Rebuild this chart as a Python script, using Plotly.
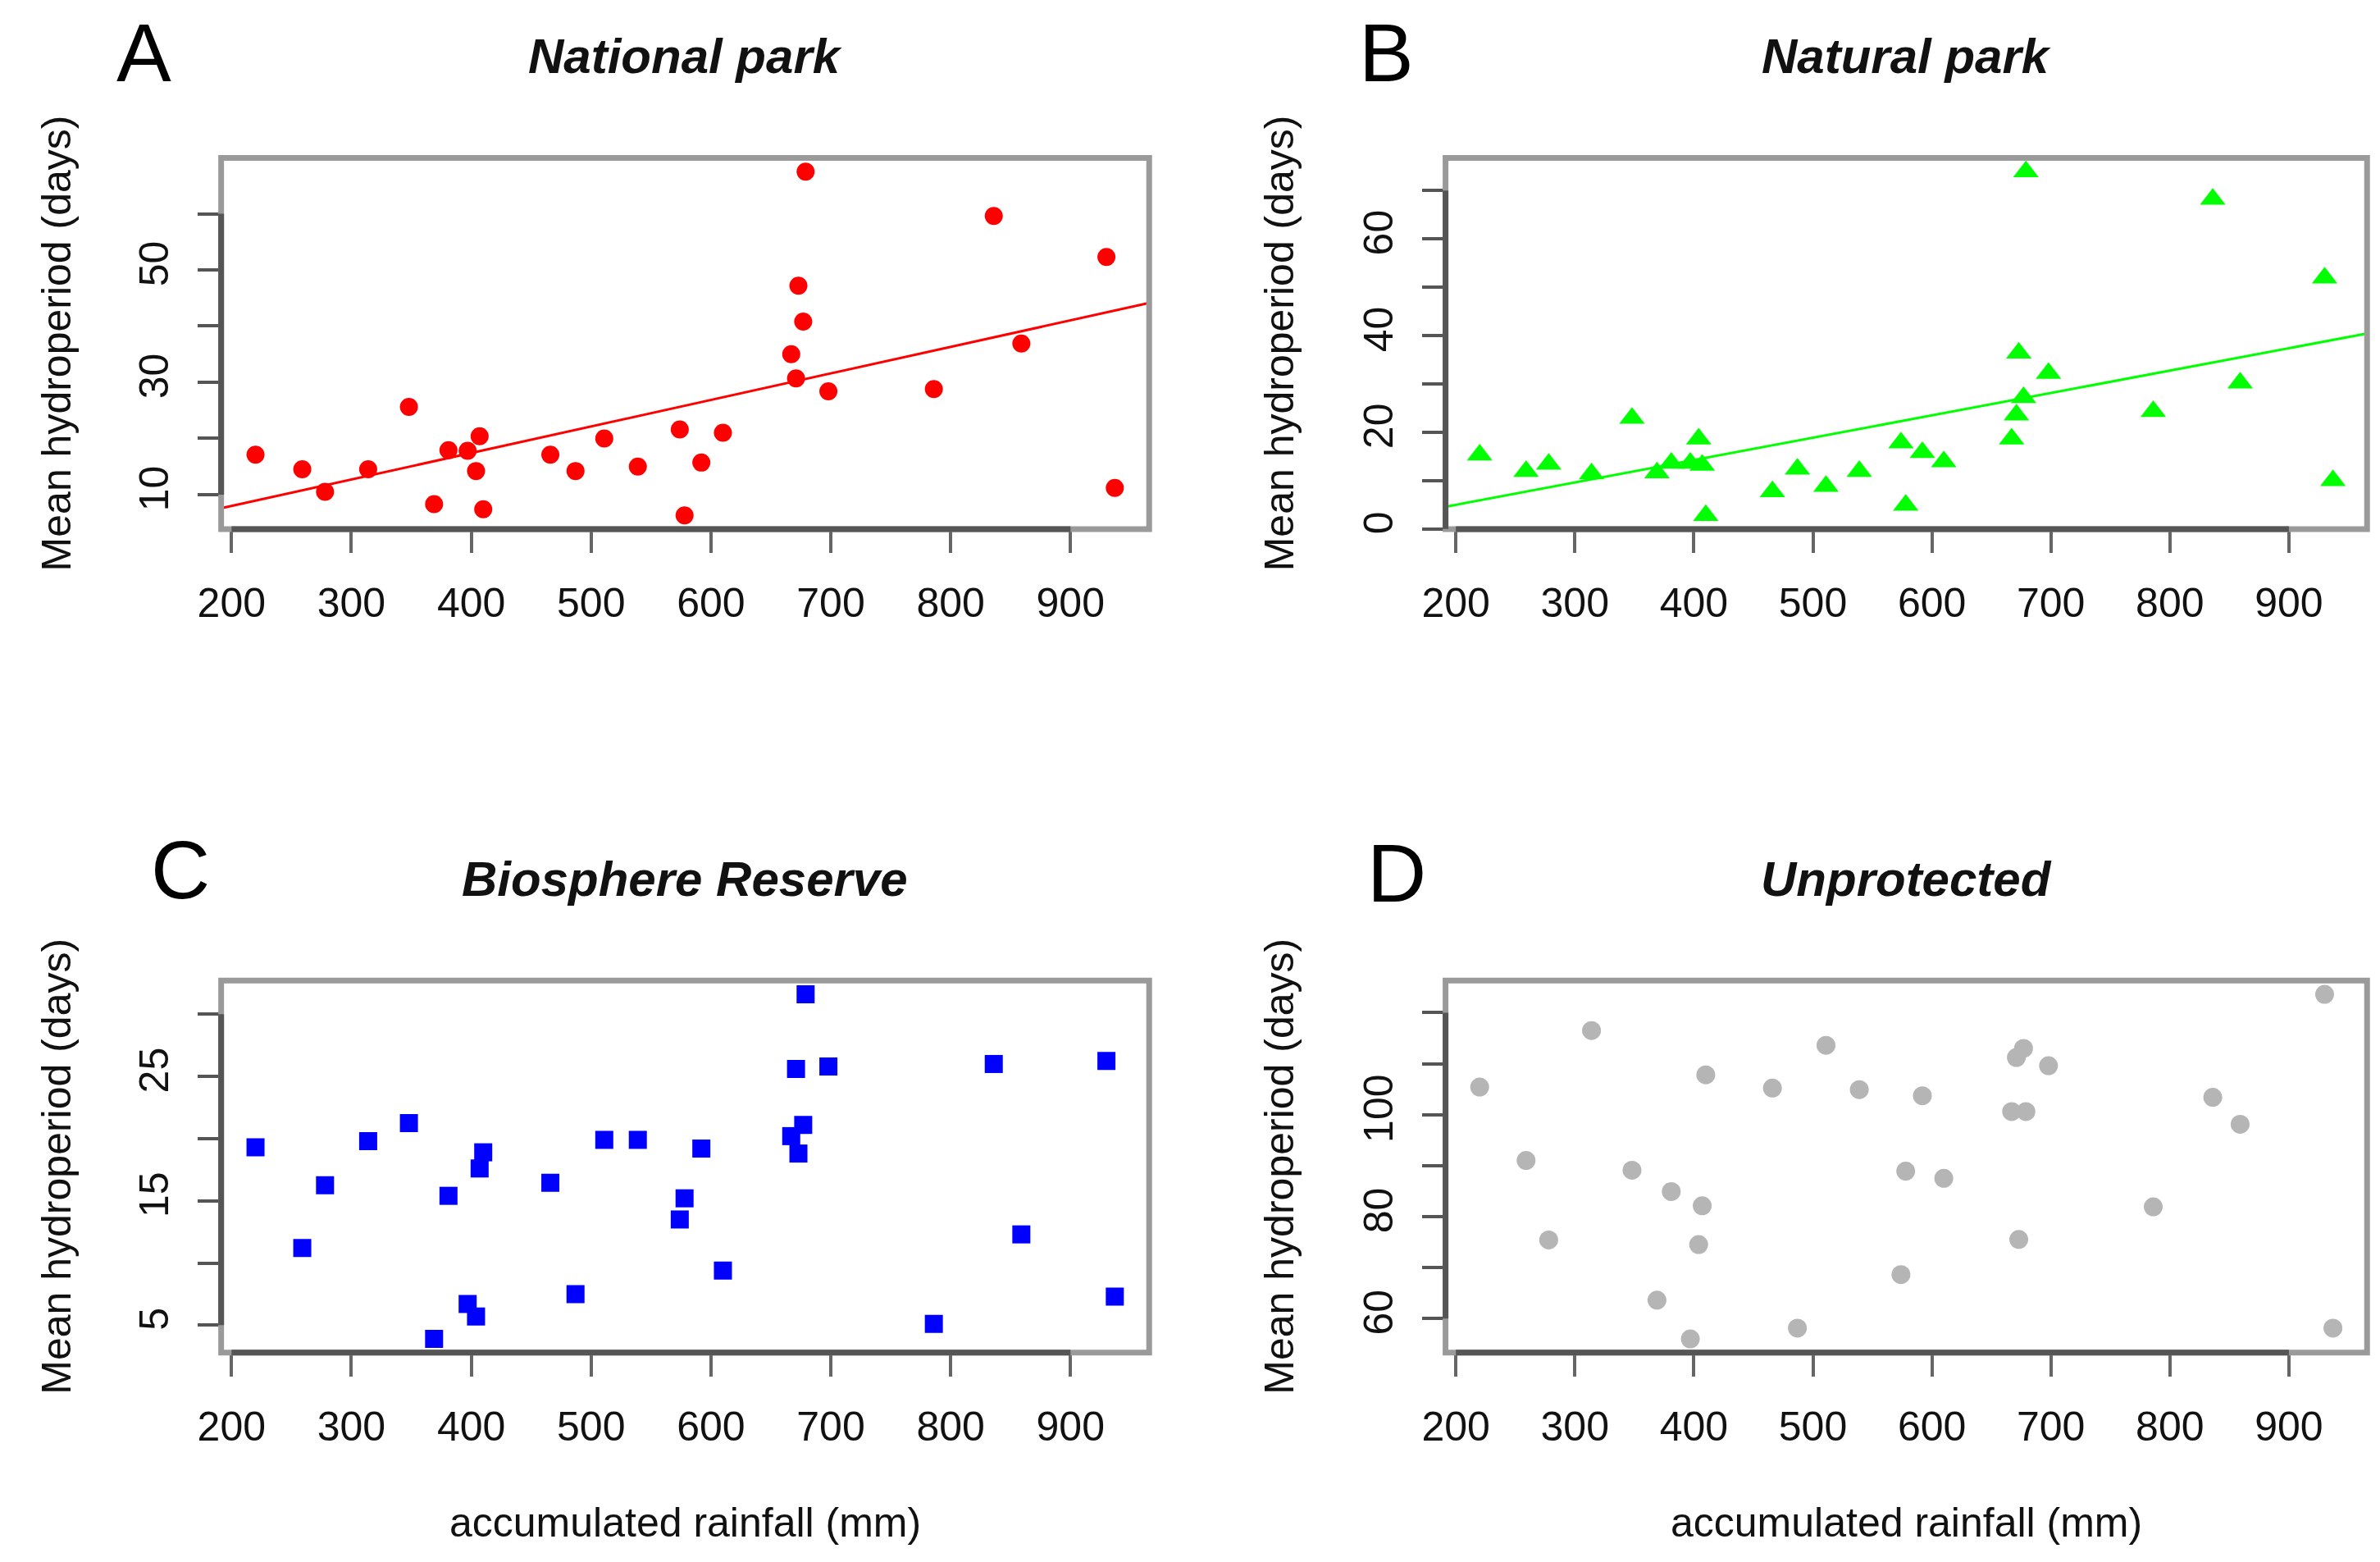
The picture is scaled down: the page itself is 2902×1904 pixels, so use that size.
import numpy as np
import plotly.graph_objects as go

W, H = 2902, 1904
OFF = 8  # page margin seen in the screenshot

# accumulated rainfall (mm) per site, same sites in each panel
rainfall = [220, 259, 278, 314, 348, 369, 381, 397, 404, 407, 410, 466, 487, 511, 539,
            574, 578, 592, 610, 667, 671, 673, 677, 679, 698, 786, 836, 859, 930, 937]

# mean hydroperiod (days)
national_park = [17.1, 14.5, 10.5, 14.5, 25.6, 8.3, 17.9, 17.8, 14.2, 20.4, 7.4, 17.1, 14.2, 20.0, 15.0,
                 21.6, 6.3, 15.7, 21.0, 35.0, 30.7, 47.2, 40.8, 67.5, 28.4, 28.8, 59.6, 36.9, 52.3, 11.2]
natural_park = [15.3, 11.9, 13.4, 11.4, 22.9, 11.6, 13.6, 13.6, 18.6, 13.2, 2.8, 7.7, 12.4, 8.8, 11.9,
                17.8, 4.9, 15.8, 13.9, 18.6, 23.6, 36.4, 27.2, 73.9, 32.2, 24.3, 68.2, 30.2, 51.9, 10.0]
biosphere = [19.3, 11.2, 16.25, 19.8, 21.25, 3.9, 15.4, 6.7, 5.7, 17.6, 18.9, 16.45, 7.5, 19.9, 19.9,
             13.5, 15.2, 19.2, 9.4, 20.2, 25.6, 18.8, 21.1, 31.6, 25.8, 5.1, 26.0, 12.3, 26.25, 7.3]
unprotected = [105.4, 91.0, 75.4, 116.5, 89.1, 63.6, 84.9, 56.0, 74.5, 82.1, 107.8, 105.2, 58.1, 113.6, 104.9,
               68.6, 88.9, 103.7, 87.5, 100.6, 111.2, 75.5, 113.0, 100.6, 109.6, 81.9, 103.4, 98.1, 123.6, 58.1]

x_ticks = [200, 300, 400, 500, 600, 700, 800, 900]

panels = [
    dict(letter="A", title="National park", y=national_park, color="#ff0000", symbol="circle", size=22,
         fit=True, yticks=[10, 20, 30, 40, 50, 60], ylabels=["10", "", "30", "", "50", ""]),
    dict(letter="B", title="Natural park", y=natural_park, color="#00ff00", symbol="triangle-up", size=27,
         fit=True, yticks=[0, 10, 20, 30, 40, 50, 60, 70], ylabels=["0", "", "20", "", "40", "", "60", ""]),
    dict(letter="C", title="Biosphere Reserve", y=biosphere, color="#0000ff", symbol="square", size=22,
         fit=False, yticks=[5, 10, 15, 20, 25, 30], ylabels=["5", "", "15", "", "25", ""]),
    dict(letter="D", title="Unprotected", y=unprotected, color="#b5b5b5", symbol="circle", size=23,
         fit=False, yticks=[60, 70, 80, 90, 100, 110, 120], ylabels=["60", "", "80", "", "100", "", ""]),
]

# plot boxes in screenshot pixels: left, right, top, bottom
boxes = [(243, 1386, 193, 647), (1751, 2886, 193, 647),
         (243, 1386, 1199, 1654), (1751, 2886, 1199, 1654)]
letter_pos = [(116, 52), (1646, 52), (158, 1063), (1656, 1067)]
ytitle_x = [40, 1546, 40, 1546]


def px(x):
    return (x - OFF) / W


def py(y):
    return 1 - (y - OFF) / H


def r_range(v):
    lo, hi = min(v), max(v)
    pad = 0.04 * (hi - lo)
    return [lo - pad, hi + pad]


FONT = "Liberation Sans"
fig = go.Figure()
layout = {}
shapes = []
annotations = []

for i, p in enumerate(panels):
    n = "" if i == 0 else str(i + 1)
    xa, ya = "x" + n, "y" + n
    left, right, top, bottom = boxes[i]
    xr = r_range(rainfall)
    yr = r_range(p["y"])

    fig.add_trace(go.Scatter(
        x=rainfall, y=p["y"], mode="markers", xaxis=xa, yaxis=ya,
        marker=dict(color=p["color"], symbol=p["symbol"], size=p["size"], line_width=0),
        hoverinfo="x+y"))

    if p["fit"]:
        slope, intercept = np.polyfit(rainfall, p["y"], 1)
        fig.add_trace(go.Scatter(
            x=xr, y=[intercept + slope * v for v in xr], mode="lines", xaxis=xa, yaxis=ya,
            line=dict(color=p["color"], width=3), hoverinfo="skip"))

    layout["xaxis" + n] = dict(
        domain=[px(left), px(right)], range=xr, anchor=ya,
        tickvals=x_ticks, ticktext=[str(t) for t in x_ticks],
        ticks="outside", ticklen=28, tickwidth=4, tickcolor="#666",
        showgrid=False, zeroline=False, showline=False,
        tickfont=dict(family=FONT, size=50, color="#111"), ticklabelstandoff=18)
    layout["yaxis" + n] = dict(
        domain=[py(bottom), py(top)], range=yr, anchor=xa,
        tickvals=p["yticks"], ticktext=p["ylabels"], tickangle=-90,
        ticks="outside", ticklen=28, tickwidth=4, tickcolor="#555",
        showgrid=False, zeroline=False, showline=False,
        tickfont=dict(family=FONT, size=50, color="#111"), ticklabelstandoff=16)

    # R style box in grey, axis lines darker from first to last tick
    shapes.append(dict(type="rect", xref=xa + " domain", yref=ya + " domain",
                       x0=0, x1=1, y0=0, y1=1, line=dict(color="#9a9a9a", width=7), layer="above"))
    shapes.append(dict(type="line", xref=xa, yref=ya + " domain",
                       x0=x_ticks[0], x1=x_ticks[-1], y0=0, y1=0,
                       line=dict(color="#555", width=7), layer="above"))
    shapes.append(dict(type="line", xref=xa + " domain", yref=ya,
                       x0=0, x1=0, y0=p["yticks"][0], y1=p["yticks"][-1],
                       line=dict(color="#555", width=7), layer="above"))

    cx = px((left + right) / 2)
    annotations.append(dict(text=p["title"], xref="paper", yref="paper", x=cx, y=py(top - 124),
                            xanchor="center", yanchor="middle", showarrow=False,
                            font=dict(family=FONT, size=60, color="#111", weight="bold", style="italic")))
    lx, ly = letter_pos[i]
    # keep the letter box inside the page for the top row
    ly_paper = min(py(ly), 1 - 56 / H)
    annotations.append(dict(text=p["letter"], xref="paper", yref="paper", x=px(lx - 4), y=ly_paper,
                            xanchor="left", yanchor="middle", showarrow=False,
                            font=dict(family=FONT, size=100, color="#000")))
    annotations.append(dict(text="Mean hydroperiod (days)", xref="paper", yref="paper",
                            x=px(ytitle_x[i]), y=py((top + bottom) / 2), textangle=-90,
                            xanchor="center", yanchor="middle", showarrow=False,
                            font=dict(family=FONT, size=50, color="#111")))
    if i >= 2:
        annotations.append(dict(text="accumulated rainfall (mm)", xref="paper", yref="paper",
                                x=cx, y=py(1862), xanchor="center", yanchor="middle", showarrow=False,
                                font=dict(family=FONT, size=50, color="#111")))

fig.update_layout(
    width=W, height=H, margin=dict(l=0, r=0, t=0, b=0),
    paper_bgcolor="white", plot_bgcolor="white", showlegend=False,
    shapes=shapes, annotations=annotations, **layout)

fig.write_html("out.html")
